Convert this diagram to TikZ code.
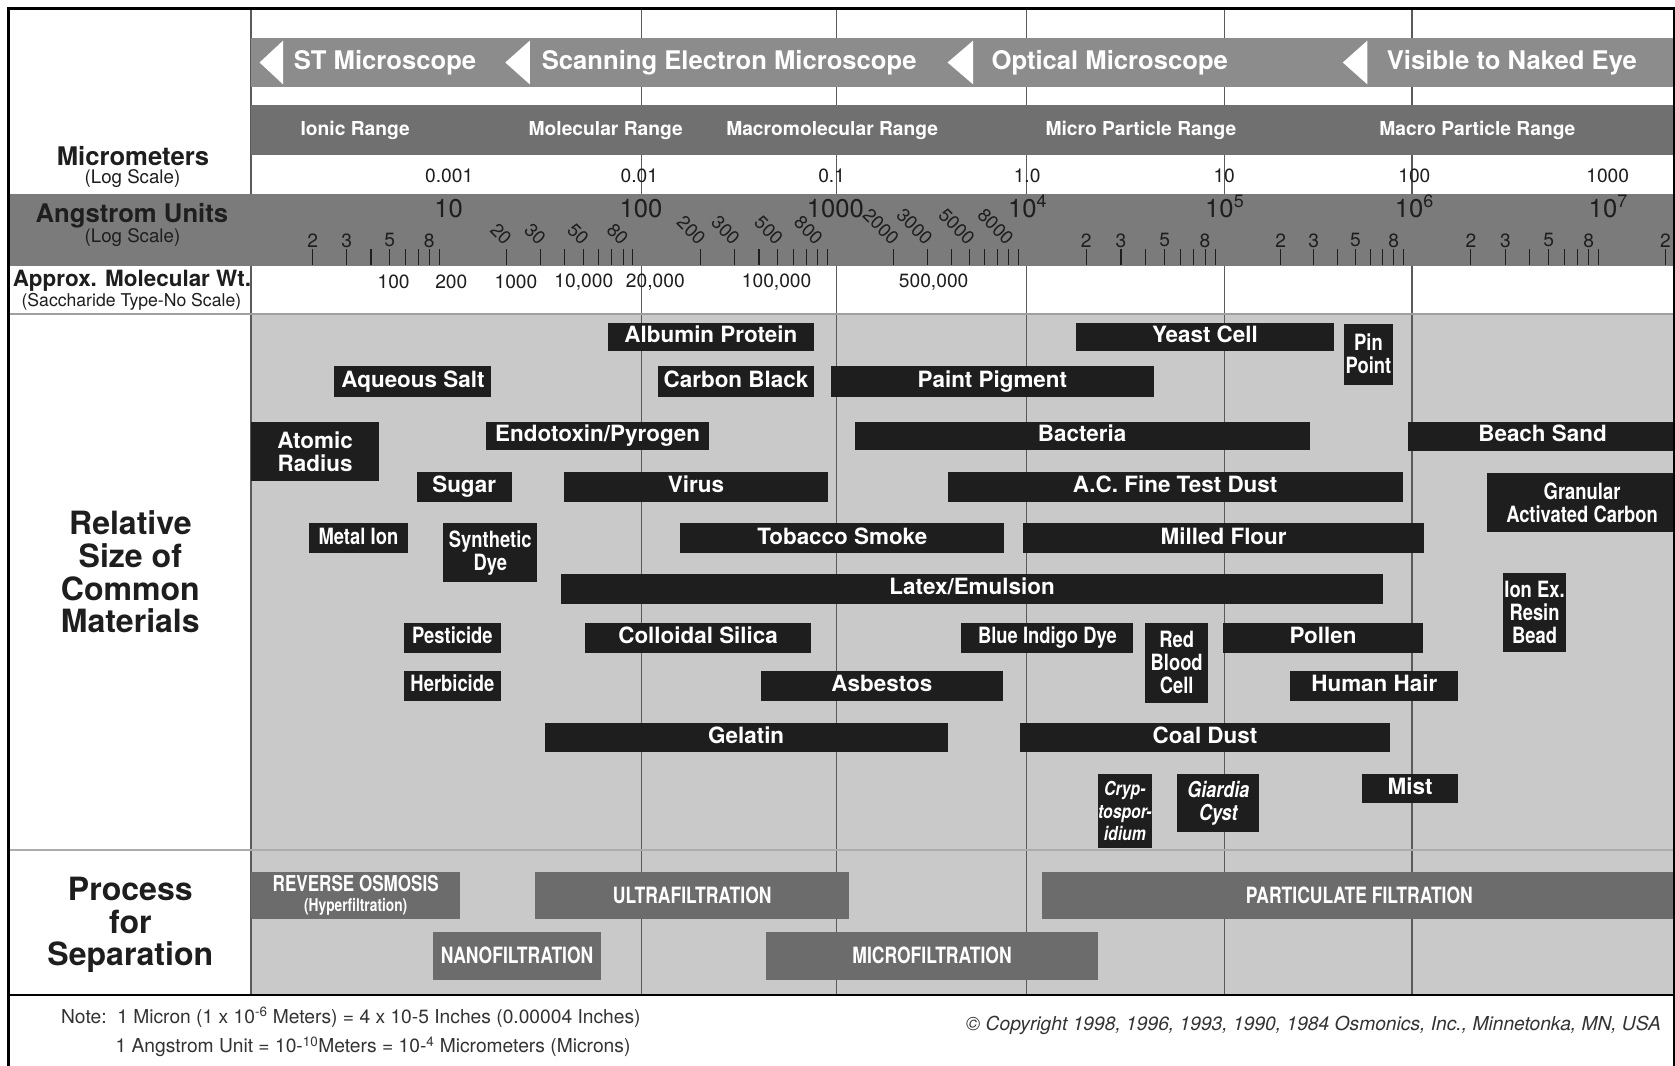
\documentclass[tikz,border=0pt]{standalone}
\usepackage{fontspec}
\setmainfont{TeX Gyre Heros}
\newfontfamily\condf[FakeStretch=0.82]{TeX Gyre Heros}
\newfontfamily\condp[FakeStretch=0.78]{TeX Gyre Heros}
\definecolor{micband}{HTML}{8C8C8C}
\definecolor{rngband}{HTML}{707070}
\definecolor{angband}{HTML}{7B7B7B}
\definecolor{matbg}{HTML}{C9C9C9}
\definecolor{procbox}{HTML}{6C6C6C}
\definecolor{boxblk}{HTML}{1E1E1E}
\definecolor{gridc}{HTML}{5A5A5A}
\definecolor{txtc}{HTML}{1E1E1E}
\definecolor{notec}{HTML}{333333}
\newcommand\fsz[2]{\fontsize{#1}{#2}\selectfont}
\newcommand\matb[7]{\node[#1, minimum width={(#5-#3)*1pt}, minimum height={(#6-#4)*1pt}] (#2) at ({(#3+#5)/2},{(#4+#6)/2}) {#7};}
\tikzset{
  blk/.style={fill=boxblk, text=white, inner sep=0pt, font=\bfseries\fsz{21}{22}, text height=15pt, text depth=4.5pt},
  blkm/.style={fill=boxblk, text=white, inner sep=0pt, align=center, font=\bfseries\fsz{21}{21.5}},
  blkcs/.style={blk, font=\condf\bfseries\fsz{21}{22}},
  blkc/.style={blkm, font=\condf\bfseries\fsz{21}{21.5}},
  blki/.style={blkm, font=\condf\bfseries\itshape\fsz{20.5}{21}},
  proc/.style={fill=procbox, text=white, inner sep=0pt, font=\condp\bfseries\fsz{21}{22}, text height=15pt, text depth=0pt},
  procm/.style={fill=procbox, text=white, inner sep=0pt, align=center, font=\condp\bfseries\fsz{20.5}{19}},
  mic/.style={text=white, font=\bfseries\fsz{24}{24}, inner sep=0pt, anchor=west},
  rng/.style={text=white, font=\bfseries\fsz{18}{18}, inner sep=0pt},
  num/.style={text=txtc, font=\fsz{18}{18}, inner sep=0pt},
  major/.style={text=txtc, font=\fsz{24}{24}, inner sep=0pt, text height=17pt, text depth=0pt},
  minlab/.style={text=txtc, font=\fsz{18}{18}, inner sep=0pt},
  rotlab/.style={text=txtc, font=\fsz{17.5}{17.5}, inner sep=0pt, rotate=-45, anchor=east},
  tick/.style={draw=txtc, line width=1pt},
  gridl/.style={draw=gridc, line width=1.1pt},
  lefth/.style={text=txtc, font=\bfseries\fsz{24}{24}, inner sep=0pt},
  leftsub/.style={text=txtc, font=\fsz{17.5}{17.5}, inner sep=0pt},
  biglab/.style={text=txtc, font=\bfseries\fsz{30}{30.5}, align=center, inner sep=0pt},
  notes/.style={text=notec, font=\fsz{18}{18}, inner sep=0pt, anchor=west}
}
\begin{document}
\begin{tikzpicture}[x=1pt,y=-1pt]
\useasboundingbox (0,0) rectangle (1568,997);
\clip (0,0) rectangle (1568,997);
\fill[white] (0,0) rectangle (1568,997);
% backgrounds
\fill[matbg] (235,295) rectangle (1570,931);
% grid lines
\foreach \gx in {600.8,783,961.2,1146,1321.8} \draw[gridl] (\gx,8) -- (\gx,931);
\draw[gridl] (235,8) -- (235,931);
% bands
\fill[micband] (235,36) rectangle (1570,81);
\fill[rngband] (235,98) rectangle (1570,145);
\fill[angband] (8,182) rectangle (1570,249);
\foreach \tx/\bx in {243/265, 473/496, 887/911, 1257/1280}
  \fill[white] (\tx,58.5) -- (\bx,38) -- (\bx,79) -- cycle;
% separators
\draw[gray!75, line width=1.6pt] (8,294) -- (1570,294);
\draw[gray!65, line width=2pt] (8,796) -- (1570,796);
\draw[black, line width=1.8pt] (8,931) -- (1570,931);
% microscope band texts
\node[mic] (tst) at (275,58.5) {ST Microscope};
\node[mic] (tsem) at (507,58.5) {Scanning Electron Microscope};
\node[mic] (topt) at (928,58.5) {Optical Microscope};
\node[mic] (tvis) at (1298,58.5) {Visible to Naked Eye};
% range band texts
\node[rng] (r1) at (332.5,122.5) {Ionic Range};
\node[rng] (r2) at (567,122.5) {Molecular Range};
\node[rng] (r3) at (779,122.5) {Macromolecular Range};
\node[rng] (r4) at (1068,122.5) {Micro Particle Range};
\node[rng] (r5) at (1383,122.5) {Macro Particle Range};
% micrometer scale
\node[num] (u1) at (420.5,164.5) {0.001};
\node[num] (u2) at (598.5,164.5) {0.01};
\node[num] (u3) at (778.5,164.5) {0.1};
\node[num] (u4) at (961.5,164.5) {1.0};
\node[num] (u5) at (1146,164.5) {10};
\node[num] (u6) at (1324,164.5) {100};
\node[num] (u7) at (1505,164.5) {1000};
% angstrom scale
\node[major] (a1) at (420,195) {10};
\node[major] (a2) at (600,195) {100};
\node[major] (a3) at (782,195) {1000};
\node[major] (a4) at (962,195) {10\textsuperscript{4}};
\node[major] (a5) at (1146.5,195) {10\textsuperscript{5}};
\node[major] (a6) at (1324,195) {10\textsuperscript{6}};
\node[major] (a7) at (1505.5,195) {10\textsuperscript{7}};
\foreach \s/\w in {238/181.5, 419.5/181.3, 600.8/182.2, 783/178.2, 961.2/184.8, 1146/175.8, 1321.8/183.2, 1505/181}{
  \foreach \m in {2,...,9}{
    \pgfmathsetmacro\xx{\s+\w*log10(\m)}
    \draw[tick] (\xx,233.5) -- (\xx,248);
  }
}
\foreach \s/\w [count=\k] in {238/181.5, 961.2/184.8, 1146/175.8, 1321.8/183.2}{
  \foreach \m in {2,3,5,8}{
    \pgfmathsetmacro\xx{\s+\w*log10(\m)}
    \node[minlab] (ul\k\m) at (\xx,225) {\m};
  }
}
\node[minlab] (ul52) at (1559,225) {2};
\foreach \s/\w/\z [count=\k] in {419.5/181.3/0, 600.8/182.2/00, 783/178.2/000}{
  \foreach \m in {2,3,5,8}{
    \pgfmathsetmacro\xx{\s+\w*log10(\m)}
    \node[rotlab] (rl\k\m) at (\xx+2,226) {\m\z};
  }
}
% molecular weight
\node[num] (w1) at (368.5,264) {100};
\node[num] (w2) at (422.5,264) {200};
\node[num] (w3) at (483,264) {1000};
\node[num] (w4) at (546.5,264) {10,000};
\node[num] (w5) at (613.5,264) {20,000};
\node[num] (w6) at (727,264) {100,000};
\node[num] (w7) at (874,264) {500,000};
% left column labels
\node[lefth] (lmic) at (124.5,146) {Micrometers};
\node[leftsub] (lmicl) at (124,167) {(Log Scale)};
\node[lefth] (lang) at (123.5,202) {Angstrom Units};
\node[leftsub] (langl) at (124,222) {(Log Scale)};
\node[lefth, font=\bfseries\fsz{21}{21}] (lmw) at (123.5,263) {Approx. Molecular Wt.};
\node[leftsub, font=\fsz{16.5}{16.5}] (lmws) at (123,283) {(Saccharide Type-No Scale)};
\node[biglab] (lrel) at (122,535.5) {Relative\\Size of\\Common\\Materials};
\node[biglab] (lproc) at (122,866) {Process\\for\\Separation};
% material boxes
\matb{blk}{albumin}{569}{302}{762}{329}{Albumin Protein}
\matb{blk}{yeast}{1007}{302}{1249}{329}{Yeast Cell}
\matb{blkc}{pin}{1258}{303}{1304}{360}{Pin\\Point}
\matb{blk}{aqsalt}{313}{343}{460}{372}{Aqueous Salt}
\matb{blk}{carbon}{616}{343}{762}{372}{Carbon Black}
\matb{blk}{paint}{778}{343}{1080}{372}{Paint Pigment}
\matb{blkm}{atomic}{235}{395}{355}{450}{Atomic\\Radius}
\matb{blk}{endo}{455}{395}{664}{421}{Endotoxin/Pyrogen}
\matb{blk}{bact}{800}{395}{1226}{421}{Bacteria}
\matb{blk}{beach}{1318}{395}{1570}{422}{Beach Sand}
\matb{blk}{sugar}{390}{442}{479}{470}{Sugar}
\matb{blk}{virus}{528}{442}{775}{470}{Virus}
\matb{blk}{acdust}{887}{442}{1313}{470}{A.C. Fine Test Dust}
\matb{blkc}{granular}{1392}{443}{1570}{498}{Granular\\Activated Carbon}
\matb{blkcs}{metal}{289}{490}{382}{518}{Metal Ion}
\matb{blkc}{synth}{415}{490}{503}{545}{Synthetic\\Dye}
\matb{blk}{tobacco}{637}{490}{940}{518}{Tobacco Smoke}
\matb{blk}{flour}{958}{490}{1333}{518}{Milled Flour}
\matb{blk}{latex}{525}{537}{1295}{565}{Latex/Emulsion}
\matb{blkc}{ionex}{1407}{536}{1466}{610}{Ion Ex.\\Resin\\Bead}
\matb{blkcs}{pest}{378}{583}{469}{611}{Pesticide}
\matb{blk}{colloid}{548}{583}{759}{611}{Colloidal Silica}
\matb{blkcs}{indigo}{900}{583}{1061}{611}{Blue Indigo Dye}
\matb{blkc}{rbc}{1072}{583}{1131}{658}{Red\\Blood\\Cell}
\matb{blk}{pollen}{1145}{583}{1332}{611}{Pollen}
\matb{blkcs}{herb}{378}{628}{469}{656}{Herbicide}
\matb{blk}{asbestos}{712}{628}{939}{656}{Asbestos}
\matb{blk}{hair}{1208}{628}{1365}{656}{Human Hair}
\matb{blk}{gelatin}{510}{677}{887}{704}{Gelatin}
\matb{blk}{coal}{955}{677}{1301}{704}{Coal Dust}
\matb{blki, font=\condf\bfseries\itshape\fsz{18}{21}}{crypto}{1028}{725}{1078}{794}{Cryp-\\tospor-\\idium}
\matb{blki}{giardia}{1102}{725}{1179}{779}{Giardia\\Cyst}
\matb{blk}{mist}{1275}{725}{1365}{752}{Mist}
% process boxes
\matb{procm}{ro}{235}{816}{431}{860}{REVERSE OSMOSIS\\{\fsz{16.5}{16.5}(Hyperfiltration)}}
\matb{proc}{uf}{501}{816}{795}{860}{ULTRAFILTRATION}
\matb{proc}{pf}{975}{816}{1570}{860}{PARTICULATE FILTRATION}
\matb{proc}{nf}{405}{872}{563}{917}{NANOFILTRATION}
\matb{proc}{mf}{717}{872}{1028}{917}{MICROFILTRATION}
% notes
\node[notes] (n1) at (57,952) {Note:\ \ 1 Micron (1 x 10\textsuperscript{-6} Meters) = 4 x 10-5 Inches (0.00004 Inches)};
\node[notes] (n2) at (108,980) {1 Angstrom Unit = 10-\textsuperscript{10}Meters = 10-\textsuperscript{4} Micrometers (Microns)};
\node[notes, anchor=east, font=\itshape\fsz{18}{18}] (copy) at (1555,960) {\textcopyright{} Copyright 1998, 1996, 1993, 1990, 1984 Osmonics, Inc., Minnetonka, MN, USA};
% frame
\draw[black, line width=2.6pt] (8,1010) -- (8,8) -- (1567,8) -- (1567,1010);
\end{tikzpicture}
\end{document}
